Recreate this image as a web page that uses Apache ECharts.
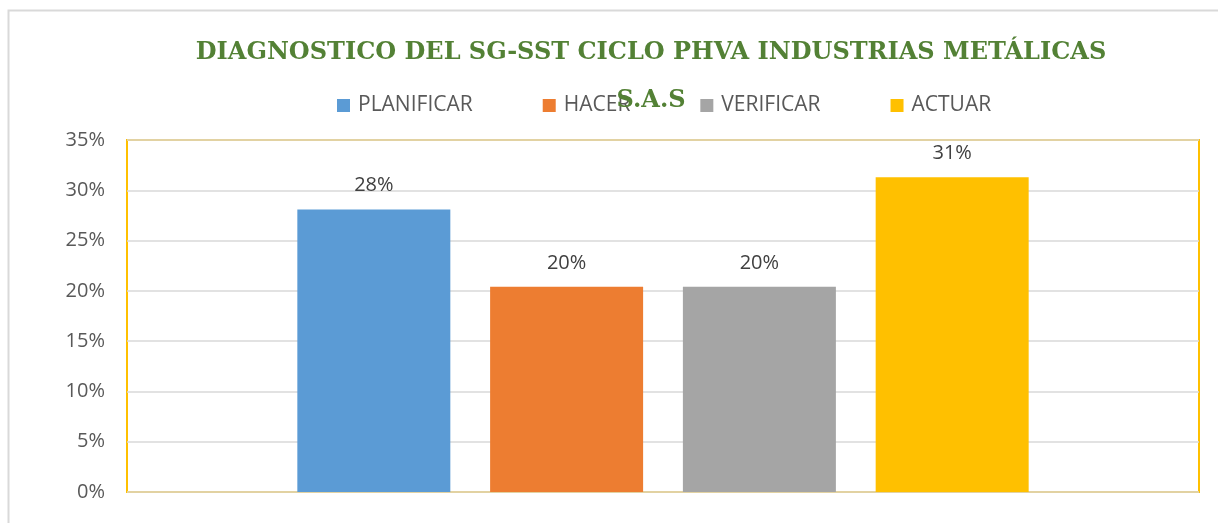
<!DOCTYPE html>
<html>
<head>
<meta charset="utf-8">
<script src="https://cdn.jsdelivr.net/npm/echarts@6/dist/echarts.min.js"></script>
<style>
  html, body { margin: 0; padding: 0; background: #fff; }
  #chart { width: 1218px; height: 523px; }
</style>
</head>
<body>
<div id="chart"></div>
<script>
var categories = ['CICLO PHVA'];
var seriesNames = ['PLANIFICAR', 'HACER', 'VERIFICAR', 'ACTUAR'];
var seriesValues = [0.281, 0.204, 0.204, 0.313];
var seriesColors = ['#5b9bd5', '#ed7d31', '#a5a5a5', '#ffc000'];
var yTicks = [0, 0.05, 0.10, 0.15, 0.20, 0.25, 0.30, 0.35];

var chart = echarts.init(document.getElementById('chart'));

var series = [];
for (var i = 0; i < seriesNames.length; i++) {
	series.push({
		name: seriesNames[i],
		type: 'bar',
		data: [seriesValues[i]],
		barWidth: 153,
		barGap: '26%',
		itemStyle: { color: seriesColors[i] },
		label: {
			show: true,
			position: 'top',
			distance: 14,
			color: '#404040',
			fontFamily: 'Open Sans',
			fontSize: 20,
			formatter: function (p) { return Math.round(p.value * 100) + '%'; }
		}
	});
}

chart.setOption({
	animation: false,
	title: {
		text: 'DIAGNOSTICO DEL SG-SST CICLO PHVA INDUSTRIAS METÁLICAS\nS.A.S',
		left: 646,
		top: 24,
		textAlign: 'center',
		textStyle: {
			color: '#538135',
			fontFamily: 'DejaVu Serif',
			fontWeight: 'bold',
			fontSize: 24,
			lineHeight: 48
		}
	},
	legend: {
		top: 90,
		left: 332,
		itemWidth: 13,
		itemHeight: 13,
		itemGap: 70,
		icon: 'rect',
		textStyle: { color: '#595959', fontFamily: 'Open Sans', fontSize: 21, padding: [0, 0, 0, 3] },
		data: seriesNames
	},
	graphic: [{
		type: 'rect',
		shape: { x: 8.5, y: 10.5, width: 1240, height: 540 },
		style: { fill: 'none', stroke: '#d9d9d9', lineWidth: 2 },
		silent: true
	}],
	grid: {
		left: 127, right: 19, top: 140, bottom: 31,
		show: true,
		borderColor: '#ffc000',
		borderWidth: 2,
		backgroundColor: 'transparent'
	},
	xAxis: {
		type: 'category',
		data: categories,
		axisLine: { show: false },
		axisTick: { show: false },
		axisLabel: { show: false }
	},
	yAxis: {
		type: 'value',
		min: yTicks[0],
		max: yTicks[yTicks.length - 1],
		interval: 0.05,
		axisLine: { show: false },
		axisTick: { show: false },
		splitLine: { lineStyle: { color: '#d9d9d9', width: 1.5 } },
		axisLabel: {
			margin: 22,
			color: '#595959',
			fontFamily: 'Open Sans',
			fontSize: 20,
			formatter: function (v) { return Math.round(v * 100) + '%'; }
		}
	},
	series: series
});
</script>
</body>
</html>
